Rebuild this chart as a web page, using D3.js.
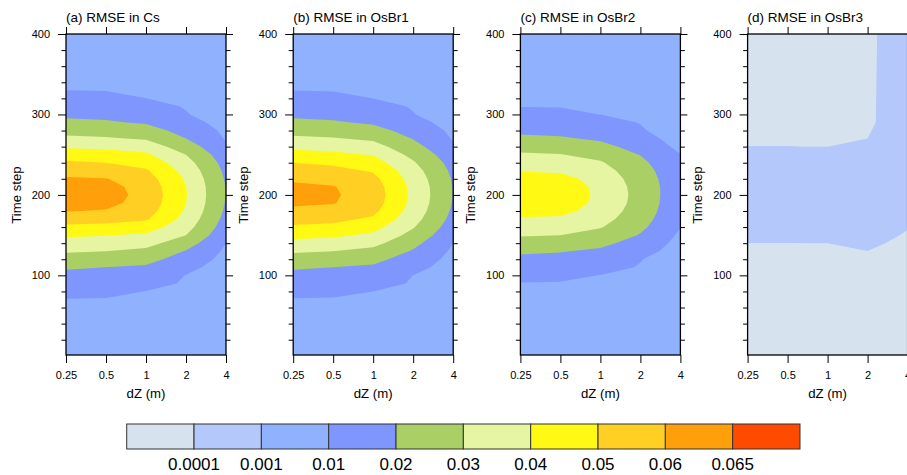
<!DOCTYPE html>
<html>
<head>
<meta charset="utf-8">
<script src="https://cdn.jsdelivr.net/npm/d3@7"></script>
<style>
  body { margin: 0; background: #fff; }
  svg { display: block; }
  text { font-family: "Liberation Sans", Arial, Helvetica, sans-serif; fill: #000; }
</style>
</head>
<body>
<svg id="chart" width="907" height="475"></svg>
<script>
// Grid coordinates: vertical resolution dZ (m) and model time step
const dzLevels = [0.25, 0.5, 1, 2, 4];
const dzTickLabels = ["0.25", "0.5", "1", "2", "4"];
const timeSteps = [0, 10, 20, 30, 40, 50, 60, 70, 80, 90, 100, 110, 120, 130, 140, 150, 160, 170, 180, 190, 200,
  210, 220, 230, 240, 250, 260, 270, 280, 290, 300, 310, 320, 330, 340, 350, 360, 370, 380, 390, 400];
const timeTicks = [100, 200, 300, 400];
const timeMinorTicks = [20, 40, 60, 80, 120, 140, 160, 180, 220, 240, 260, 280, 320, 340, 360, 380];

// Contour levels and fill colours
const levels = [0.0001, 0.001, 0.01, 0.02, 0.03, 0.04, 0.05, 0.06, 0.065];
const levelLabels = ["0.0001", "0.001", "0.01", "0.02", "0.03", "0.04", "0.05", "0.06", "0.065"];
const bandColors = ["#d6e2ee", "#b4c8fb", "#8fb1fe", "#7f96fe", "#aacf64", "#e6f5a2", "#fff914", "#ffd023", "#ffa00a", "#ff4b00"];

// RMSE, one array per dZ column (rows follow timeSteps)
const rmseCs = [
  [0.005, 0.00568, 0.00637, 0.00705, 0.00774, 0.00842, 0.00911, 0.00979, 0.0120, 0.01486, 0.01771, 0.021, 0.026, 0.031, 0.036, 0.04133, 0.048, 0.05438, 0.06037, 0.06315, 0.06419, 0.0635, 0.06107, 0.0565, 0.0515, 0.04533, 0.03867, 0.032, 0.02667, 0.0219, 0.01833, 0.01556, 0.01278, 0.00999, 0.00929, 0.00857, 0.00786, 0.00714, 0.00643, 0.00571, 0.005],
  [0.005, 0.00567, 0.00633, 0.007, 0.00767, 0.00833, 0.009, 0.00967, 0.01143, 0.01429, 0.01714, 0.02, 0.025, 0.03, 0.03513, 0.04034, 0.04724, 0.05353, 0.05941, 0.06265, 0.06379, 0.06303, 0.06037, 0.05526, 0.05, 0.04394, 0.03767, 0.031, 0.02585, 0.02098, 0.01771, 0.01486, 0.012, 0.00979, 0.00911, 0.00842, 0.00774, 0.00705, 0.00637, 0.00568, 0.005],
  [0.005, 0.00561, 0.00622, 0.00683, 0.00744, 0.00805, 0.00866, 0.00927, 0.00988, 0.0125, 0.01563, 0.01875, 0.023, 0.028, 0.03316, 0.03842, 0.045, 0.05121, 0.05443, 0.05636, 0.057, 0.05636, 0.05443, 0.05121, 0.04659, 0.04171, 0.03552, 0.02895, 0.02368, 0.01909, 0.01606, 0.01303, 0.01, 0.00938, 0.00875, 0.00813, 0.0075, 0.00688, 0.00625, 0.00563, 0.005],
  [0.004, 0.00458, 0.00517, 0.00575, 0.00633, 0.00691, 0.0075, 0.00808, 0.00866, 0.00924, 0.00983, 0.01244, 0.01592, 0.01941, 0.02454, 0.03, 0.03378, 0.03672, 0.03882, 0.04008, 0.0405, 0.04008, 0.03882, 0.03672, 0.03378, 0.03, 0.025, 0.02, 0.01683, 0.01365, 0.01048, 0.00948, 0.00887, 0.00826, 0.00765, 0.00704, 0.00643, 0.00583, 0.00522, 0.00461, 0.004],
  [0.004, 0.0042, 0.0043, 0.0045, 0.0047, 0.0048, 0.005, 0.0052, 0.0053, 0.0055, 0.0057, 0.0063, 0.0072, 0.0085, 0.00999, 0.01284, 0.01518, 0.01704, 0.01841, 0.01929, 0.01968, 0.01958, 0.01899, 0.01792, 0.01635, 0.0143, 0.01176, 0.0093, 0.0081, 0.0064, 0.0056, 0.0052, 0.005, 0.0049, 0.0048, 0.0047, 0.0046, 0.0046, 0.0045, 0.0045, 0.0045]
];

const rmseOsBr1 = [
  [0.005, 0.00567, 0.00634, 0.00701, 0.00768, 0.00836, 0.00903, 0.0097, 0.01164, 0.01463, 0.01761, 0.021, 0.026, 0.03118, 0.03706, 0.04294, 0.04882, 0.05364, 0.05818, 0.06149, 0.0625, 0.06167, 0.0587, 0.05435, 0.05, 0.04375, 0.03765, 0.03176, 0.02667, 0.0219, 0.01829, 0.01543, 0.01257, 0.00993, 0.00923, 0.00852, 0.00782, 0.00711, 0.00641, 0.0057, 0.005],
  [0.005, 0.00566, 0.00632, 0.00697, 0.00763, 0.00829, 0.00895, 0.00961, 0.01118, 0.01412, 0.01706, 0.02, 0.025, 0.03, 0.03588, 0.04176, 0.04765, 0.05261, 0.05696, 0.06045, 0.0611, 0.06045, 0.05708, 0.05292, 0.04824, 0.04235, 0.03647, 0.03059, 0.02571, 0.02095, 0.01765, 0.01471, 0.01176, 0.00973, 0.00905, 0.00838, 0.0077, 0.00703, 0.00635, 0.00568, 0.005],
  [0.005, 0.00563, 0.00625, 0.00688, 0.0075, 0.00813, 0.00875, 0.00938, 0.01, 0.01286, 0.01571, 0.01857, 0.0225, 0.0275, 0.0327, 0.03811, 0.04333, 0.04846, 0.05244, 0.0547, 0.0555, 0.05484, 0.05273, 0.04905, 0.04429, 0.03944, 0.03389, 0.02842, 0.02316, 0.01879, 0.01576, 0.01273, 0.00994, 0.00932, 0.0087, 0.00809, 0.00747, 0.00685, 0.00623, 0.00562, 0.005],
  [0.004, 0.00459, 0.00519, 0.00578, 0.00638, 0.00697, 0.00756, 0.00816, 0.00875, 0.00935, 0.00994, 0.01281, 0.01594, 0.01906, 0.0228, 0.0268, 0.03071, 0.03373, 0.03591, 0.03723, 0.0377, 0.03732, 0.03608, 0.03399, 0.03105, 0.02725, 0.02333, 0.01954, 0.01646, 0.01338, 0.01031, 0.00945, 0.00885, 0.00824, 0.00764, 0.00703, 0.00642, 0.00582, 0.00521, 0.00461, 0.004],
  [0.004, 0.0042, 0.0043, 0.0045, 0.0047, 0.0048, 0.005, 0.0052, 0.0053, 0.0055, 0.0057, 0.0063, 0.0072, 0.0085, 0.00999, 0.01284, 0.01518, 0.01704, 0.01841, 0.01929, 0.01968, 0.01958, 0.01899, 0.01792, 0.01635, 0.0143, 0.01176, 0.0093, 0.0081, 0.0064, 0.0056, 0.0052, 0.005, 0.0049, 0.0048, 0.0047, 0.0046, 0.0046, 0.0045, 0.0045, 0.0045]
];

const rmseOsBr2 = [
  [0.005, 0.00553, 0.00606, 0.0066, 0.00713, 0.00766, 0.00819, 0.00872, 0.00926, 0.00979, 0.01182, 0.01485, 0.01788, 0.02143, 0.02619, 0.0308, 0.0348, 0.0388, 0.04394, 0.04761, 0.04899, 0.04807, 0.04486, 0.03958, 0.03542, 0.03125, 0.02667, 0.0219, 0.01813, 0.015, 0.01188, 0.00983, 0.0094, 0.00898, 0.00855, 0.00813, 0.0077, 0.00728, 0.00685, 0.00643, 0.006],
  [0.005, 0.00552, 0.00604, 0.00656, 0.00708, 0.0076, 0.00813, 0.00865, 0.00917, 0.00969, 0.01121, 0.01424, 0.01727, 0.02048, 0.02524, 0.03, 0.034, 0.038, 0.04318, 0.04747, 0.049, 0.04775, 0.04374, 0.0384, 0.0344, 0.0304, 0.02571, 0.02095, 0.01758, 0.01455, 0.01152, 0.00979, 0.00937, 0.00895, 0.00853, 0.00811, 0.00768, 0.00726, 0.00684, 0.00642, 0.006],
  [0.005, 0.00549, 0.00598, 0.00647, 0.00696, 0.00745, 0.00794, 0.00843, 0.00892, 0.00941, 0.0099, 0.01242, 0.01545, 0.01848, 0.02217, 0.02652, 0.03064, 0.0334, 0.03537, 0.03657, 0.037, 0.03665, 0.03553, 0.03363, 0.03095, 0.02696, 0.02261, 0.01879, 0.01576, 0.01273, 0.00996, 0.00956, 0.00917, 0.00877, 0.00838, 0.00798, 0.00758, 0.00719, 0.00679, 0.0064, 0.006],
  [0.004, 0.0045, 0.00501, 0.00551, 0.00602, 0.00652, 0.00703, 0.00753, 0.00803, 0.00854, 0.00904, 0.00955, 0.0103, 0.01333, 0.01636, 0.01939, 0.02212, 0.02423, 0.02575, 0.02667, 0.027, 0.02673, 0.02587, 0.02441, 0.02236, 0.01971, 0.01676, 0.01382, 0.01088, 0.0097, 0.00927, 0.00885, 0.00842, 0.00799, 0.00756, 0.00714, 0.00671, 0.00628, 0.00585, 0.00543, 0.005],
  [0.003, 0.0032, 0.0034, 0.0036, 0.0038, 0.004, 0.0042, 0.0044, 0.0046, 0.0048, 0.005, 0.0052, 0.0056, 0.0062, 0.0072, 0.0085, 0.01025, 0.01134, 0.01216, 0.0127, 0.01297, 0.01296, 0.01268, 0.01212, 0.01129, 0.01019, 0.0078, 0.006, 0.0055, 0.0052, 0.005, 0.0049, 0.0048, 0.0047, 0.0046, 0.0045, 0.0044, 0.0043, 0.0042, 0.0041, 0.004]
];

const rmseOsBr3 = [
  [4e-5, 4.43e-5, 4.85e-5, 5.28e-5, 5.7e-5, 6.13e-5, 6.55e-5, 6.98e-5, 7.4e-5, 7.83e-5, 8.26e-5, 8.68e-5, 9.11e-5, 9.53e-5, 9.96e-5, 1.458e-4, 1.966e-4, 2.475e-4, 2.983e-4, 3.492e-4, 4e-4, 3.508e-4, 3.016e-4, 2.525e-4, 2.033e-4, 1.541e-4, 1.004e-4, 9.61e-5, 9.18e-5, 8.75e-5, 8.32e-5, 7.88e-5, 7.45e-5, 7.02e-5, 6.59e-5, 6.16e-5, 5.73e-5, 5.3e-5, 4.86e-5, 4.43e-5, 4e-5],
  [4e-5, 4.43e-5, 4.85e-5, 5.28e-5, 5.7e-5, 6.13e-5, 6.55e-5, 6.98e-5, 7.4e-5, 7.83e-5, 8.26e-5, 8.68e-5, 9.11e-5, 9.53e-5, 9.96e-5, 1.458e-4, 1.966e-4, 2.475e-4, 2.983e-4, 3.492e-4, 4e-4, 3.508e-4, 3.016e-4, 2.525e-4, 2.033e-4, 1.541e-4, 1.004e-4, 9.61e-5, 9.18e-5, 8.75e-5, 8.32e-5, 7.88e-5, 7.45e-5, 7.02e-5, 6.59e-5, 6.16e-5, 5.73e-5, 5.3e-5, 4.86e-5, 4.43e-5, 4e-5],
  [4e-5, 4.43e-5, 4.85e-5, 5.28e-5, 5.7e-5, 6.13e-5, 6.55e-5, 6.98e-5, 7.4e-5, 7.83e-5, 8.26e-5, 8.68e-5, 9.11e-5, 9.53e-5, 9.99e-5, 1.458e-4, 1.966e-4, 2.475e-4, 2.983e-4, 3.492e-4, 4e-4, 3.508e-4, 3.016e-4, 2.525e-4, 2.033e-4, 1.541e-4, 9.95e-5, 9.61e-5, 9.18e-5, 8.75e-5, 8.32e-5, 7.88e-5, 7.45e-5, 7.02e-5, 6.59e-5, 6.16e-5, 5.73e-5, 5.3e-5, 4.86e-5, 4.43e-5, 4e-5],
  [4e-5, 4.46e-5, 4.92e-5, 5.37e-5, 5.83e-5, 6.29e-5, 6.75e-5, 7.21e-5, 7.66e-5, 8.12e-5, 8.58e-5, 9.04e-5, 9.5e-5, 9.95e-5, 1.391e-4, 1.826e-4, 2.261e-4, 2.696e-4, 3.13e-4, 3.565e-4, 4e-4, 3.571e-4, 3.143e-4, 2.714e-4, 2.286e-4, 1.857e-4, 1.429e-4, 1.0e-4, 9.1e-5, 8.2e-5, 8.16e-5, 8.13e-5, 8.09e-5, 8.05e-5, 8.02e-5, 7.98e-5, 7.95e-5, 7.91e-5, 7.87e-5, 7.84e-5, 7.8e-5],
  [3e-5, 3.14e-5, 3.29e-5, 3.43e-5, 3.57e-5, 3.71e-5, 3.86e-5, 4e-5, 4.14e-5, 4.29e-5, 4.43e-5, 4.57e-5, 4.71e-5, 4.86e-5, 5e-5, 7.94e-5, 1.105e-4, 1.453e-4, 1.802e-4, 2.151e-4, 2.5e-4, 2.417e-4, 2.333e-4, 2.25e-4, 2.167e-4, 2.083e-4, 2e-4, 1.9e-4, 1.8e-4, 1.7e-4, 1.7e-4, 1.7e-4, 1.7e-4, 1.7e-4, 1.7e-4, 1.7e-4, 1.7e-4, 1.7e-4, 1.7e-4, 1.7e-4, 1.7e-4]
];

const panelTitles = ["(a) RMSE in Cs", "(b) RMSE in OsBr1", "(c) RMSE in OsBr2", "(d) RMSE in OsBr3"];
const panelGrids = [rmseCs, rmseOsBr1, rmseOsBr2, rmseOsBr3];

// Layout
const svg = d3.select("#chart");
const plotW = 160, plotH = 321, plotTop = 34;
const panelLeft0 = 66, panelGap = 227.2;

const xScale = d3.scaleLog().domain([dzLevels[0], dzLevels[dzLevels.length - 1]]).range([0, plotW]);
const yScale = d3.scaleLinear().domain([1, 400]).range([plotH, 0]);
const fillScale = d3.scaleThreshold().domain(levels).range(bandColors);

const nx = dzLevels.length, ny = timeSteps.length;
const colStep = xScale(dzLevels[1]) - xScale(dzLevels[0]);
const rowStep = timeSteps[1] - timeSteps[0];

// Contour polygons live in grid-cell space; map cell centres onto the axes
const gridToPlot = d3.geoTransform({
  point(gx, gy) {
    this.stream.point(
      xScale(dzLevels[0]) + (gx - 0.5) * colStep,
      yScale(timeSteps[0] + (gy - 0.5) * rowStep)
    );
  }
});
const contourPath = d3.geoPath(gridToPlot);
const contourGen = d3.contours().size([nx, ny]).thresholds(levels);

const fontAxis = 11, fontLabel = 13.2, fontTitle = 13.5;

panelGrids.forEach((grid, p) => {
  const left = panelLeft0 + p * panelGap;
  const g = svg.append("g").attr("transform", `translate(${left},${plotTop})`);

  const clipId = "clip" + p;
  g.append("clipPath").attr("id", clipId)
    .append("rect").attr("width", plotW).attr("height", plotH);

  // flatten columns into row-major order for d3.contours
  const flat = [];
  for (let j = 0; j < ny; j++) for (let i = 0; i < nx; i++) flat.push(grid[i][j]);

  const field = g.append("g").attr("clip-path", `url(#${clipId})`);
  field.append("rect").attr("width", plotW).attr("height", plotH).attr("fill", bandColors[0]);
  field.selectAll("path")
    .data(contourGen(flat))
    .join("path")
    .attr("d", contourPath)
    .attr("fill", d => fillScale(d.value));

  // axes: major ticks outward, minor ticks on the time axis
  const styleAxis = sel => {
    sel.select(".domain").remove();
    sel.selectAll("line").attr("stroke", "#000").attr("stroke-width", 1);
    sel.attr("font-family", null).attr("font-size", null);
    sel.selectAll("text").style("font-size", fontAxis + "px");
  };

  g.append("g").attr("transform", `translate(0,${plotH})`)
    .call(d3.axisBottom(xScale).tickValues(dzLevels).tickFormat((d, i) => dzTickLabels[i]).tickSize(8).tickPadding(8.5))
    .call(styleAxis);
  g.append("g")
    .call(d3.axisTop(xScale).tickValues(dzLevels).tickFormat("").tickSize(7))
    .call(styleAxis);
  g.append("g")
    .call(d3.axisLeft(yScale).tickValues(timeTicks).tickSize(8).tickPadding(8))
    .call(styleAxis);
  g.append("g")
    .call(d3.axisLeft(yScale).tickValues(timeMinorTicks).tickFormat("").tickSize(4.5))
    .call(styleAxis);
  g.append("g").attr("transform", `translate(${plotW},0)`)
    .call(d3.axisRight(yScale).tickValues(timeTicks).tickFormat("").tickSize(7))
    .call(styleAxis);
  g.append("g").attr("transform", `translate(${plotW},0)`)
    .call(d3.axisRight(yScale).tickValues(timeMinorTicks).tickFormat("").tickSize(4.5))
    .call(styleAxis);

  g.append("rect").attr("width", plotW).attr("height", plotH)
    .attr("fill", "none").attr("stroke", "#000").attr("stroke-width", 1.3);

  g.append("text").attr("x", 0).attr("y", 21.5 - plotTop)
    .style("font-size", fontTitle + "px").text(panelTitles[p]);

  g.append("text").attr("x", plotW / 2).attr("y", 397.5 - plotTop)
    .attr("text-anchor", "middle").style("font-size", fontLabel + "px").text("dZ (m)");

  g.append("text")
    .attr("transform", `translate(-45.5,${195 - plotTop}) rotate(-90)`)
    .attr("text-anchor", "middle").style("font-size", fontLabel + "px").text("Time step");
});

// Colour bar
const barLeft = 126.7, barRight = 800, barTop = 424, barH = 25;
const barScale = d3.scaleLinear().domain([0, bandColors.length]).range([barLeft, barRight]);
const bar = svg.append("g");
bar.selectAll("rect")
  .data(bandColors)
  .join("rect")
  .attr("x", (d, i) => barScale(i))
  .attr("y", barTop)
  .attr("width", (d, i) => barScale(i + 1) - barScale(i))
  .attr("height", barH)
  .attr("fill", d => d)
  .attr("stroke", "#333")
  .attr("stroke-width", 1);
bar.selectAll("text")
  .data(levelLabels)
  .join("text")
  .attr("x", (d, i) => barScale(i + 1))
  .attr("y", 470)
  .attr("text-anchor", "middle")
  .style("font-size", "17px")
  .text(d => d);
</script>
</body>
</html>
